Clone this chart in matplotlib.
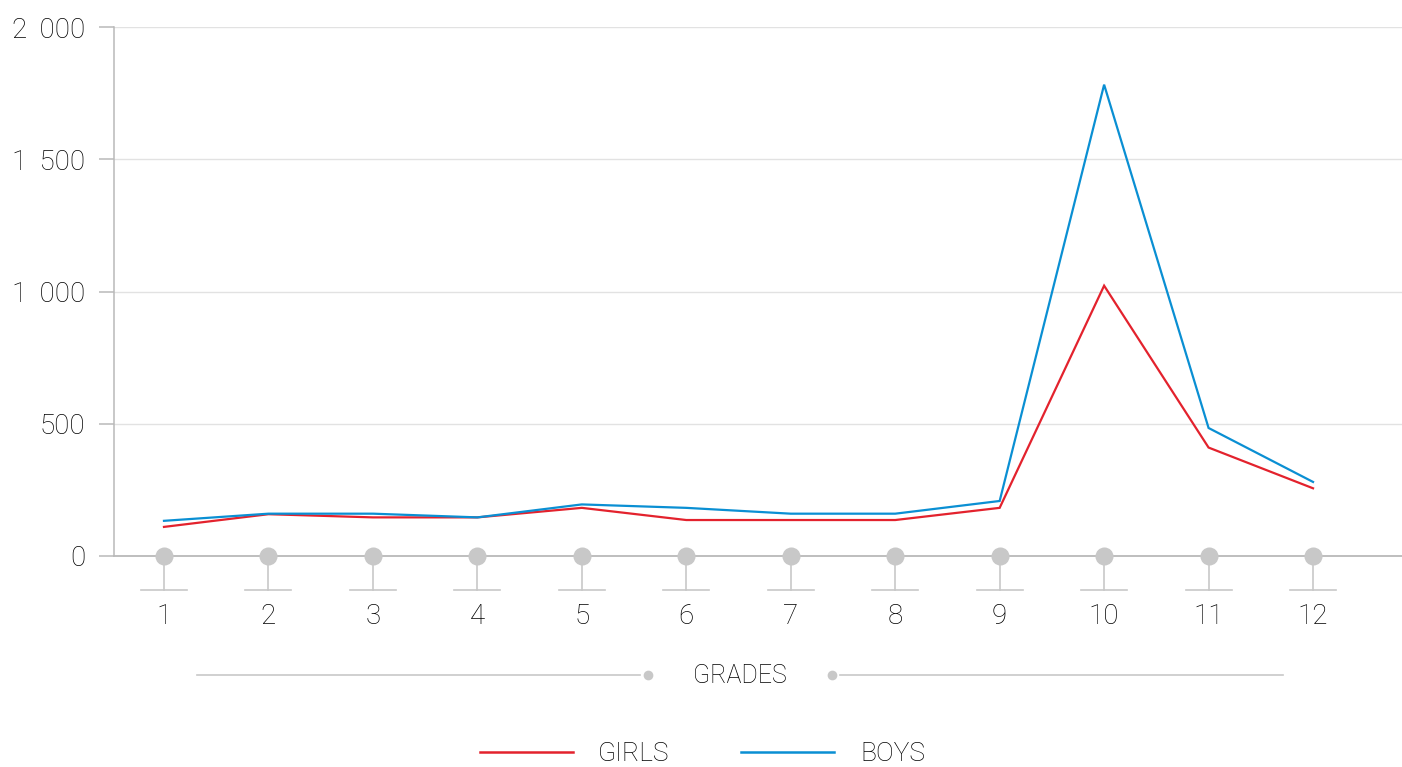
"""Girls and boys per grade, line chart with pinned grade ticks."""
import matplotlib
matplotlib.use("Agg")
import matplotlib.pyplot as plt
from matplotlib.lines import Line2D
from matplotlib.ticker import FuncFormatter
import matplotlib.transforms as mtransforms

GRADES = [1, 2, 3, 4, 5, 6, 7, 8, 9, 10, 11, 12]
GIRLS = [110, 158, 146, 146, 182, 136, 136, 136, 182, 1022, 410, 256]
BOYS = [133, 160, 160, 146, 195, 182, 160, 160, 208, 1782, 484, 280]
Y_TICKS = [0, 500, 1000, 1500, 2000]

RED, BLUE = "#e3222d", "#0a8fd3"
GRID, AXIS, PIN, INK = "#e2e2e2", "#b9b9b9", "#c8c8c8", "#000000"
FONT = dict(family=["Roboto", "DejaVu Sans"], fontweight="light")

W, H = 1402, 767
fig = plt.figure(figsize=(W/100, H/100), dpi=100)
ax = fig.add_axes((114/W, (H-556)/H, (1402-114)/W, 529/H))

ax.plot(GRADES, GIRLS, color=RED, lw=1.6, zorder=4, solid_joinstyle="miter")
ax.plot(GRADES, BOYS, color=BLUE, lw=1.6, zorder=4, solid_joinstyle="miter")

ax.set_xlim(1 - 50/104.5, 12 + 89/104.5)
ax.set_ylim(0, 2000)
ax.set_yticks(Y_TICKS)
ax.yaxis.set_major_formatter(
    FuncFormatter(lambda v, _: f"{v:,.0f}".replace(",", " \u2009")))
# tick length and pad are in points: 15 px and 14 px at 100 dpi
ax.tick_params(axis="y", length=10.8, width=1.1, color=AXIS, pad=10,
               labelsize=20, labelcolor=INK)
for lab in ax.get_yticklabels():
    lab.set_family(FONT["family"])
    lab.set_fontweight(FONT["fontweight"])
ax.set_xticks([])
ax.grid(axis="y", color=GRID, lw=1.0)
ax.set_axisbelow(True)
for side in ("top", "right"):
    ax.spines[side].set_visible(False)
ax.spines["left"].set_color(AXIS)
ax.spines["bottom"].set_color(AXIS)
ax.spines["left"].set_linewidth(1.1)
ax.spines["bottom"].set_linewidth(1.3)

# pinned grade markers under the axis
blend = mtransforms.blended_transform_factory(ax.transData, ax.transAxes)
drop = -34/529
half = 23/104.5
for g in GRADES:
    ax.add_line(Line2D([g, g], [0, drop], transform=blend, color=PIN, lw=1.2,
                       clip_on=False, zorder=2))
    ax.add_line(Line2D([g - half, g + half], [drop, drop], transform=blend,
                       color=PIN, lw=1.2, clip_on=False, zorder=2))
    ax.text(g, -60/529, str(g), transform=blend, ha="center", va="center",
            fontsize=20, color=INK, **FONT)
ax.plot(GRADES, [0]*len(GRADES), "o", ms=13, color=PIN, mec="none",
        clip_on=False, zorder=3)

# axis title with rules
fy = (H - 675)/H
fig.add_artist(Line2D([197/W, 640/W], [fy, fy], color=PIN, lw=1.2))
fig.add_artist(Line2D([840/W, 1283/W], [fy, fy], color=PIN, lw=1.2))
fig.add_artist(Line2D([648/W, 832/W], [fy, fy], ls="none", marker="o", ms=7,
                      color=PIN, mec="none"))
fig.text(740/W, (H - 676)/H, "GRADES", ha="center", va="center", fontsize=18,
         color=INK, **FONT)

# legend
ly = (H - 752)/H
fig.add_artist(Line2D([480/W, 573/W], [ly, ly], color=RED, lw=1.8))
fig.text(598/W, (H - 754)/H, "GIRLS", ha="left", va="center", fontsize=19,
         color=INK, **FONT)
fig.add_artist(Line2D([741/W, 834/W], [ly, ly], color=BLUE, lw=1.8))
fig.text(860/W, (H - 754)/H, "BOYS", ha="left", va="center", fontsize=19,
         color=INK, **FONT)

fig.savefig("out.png", dpi=100)
